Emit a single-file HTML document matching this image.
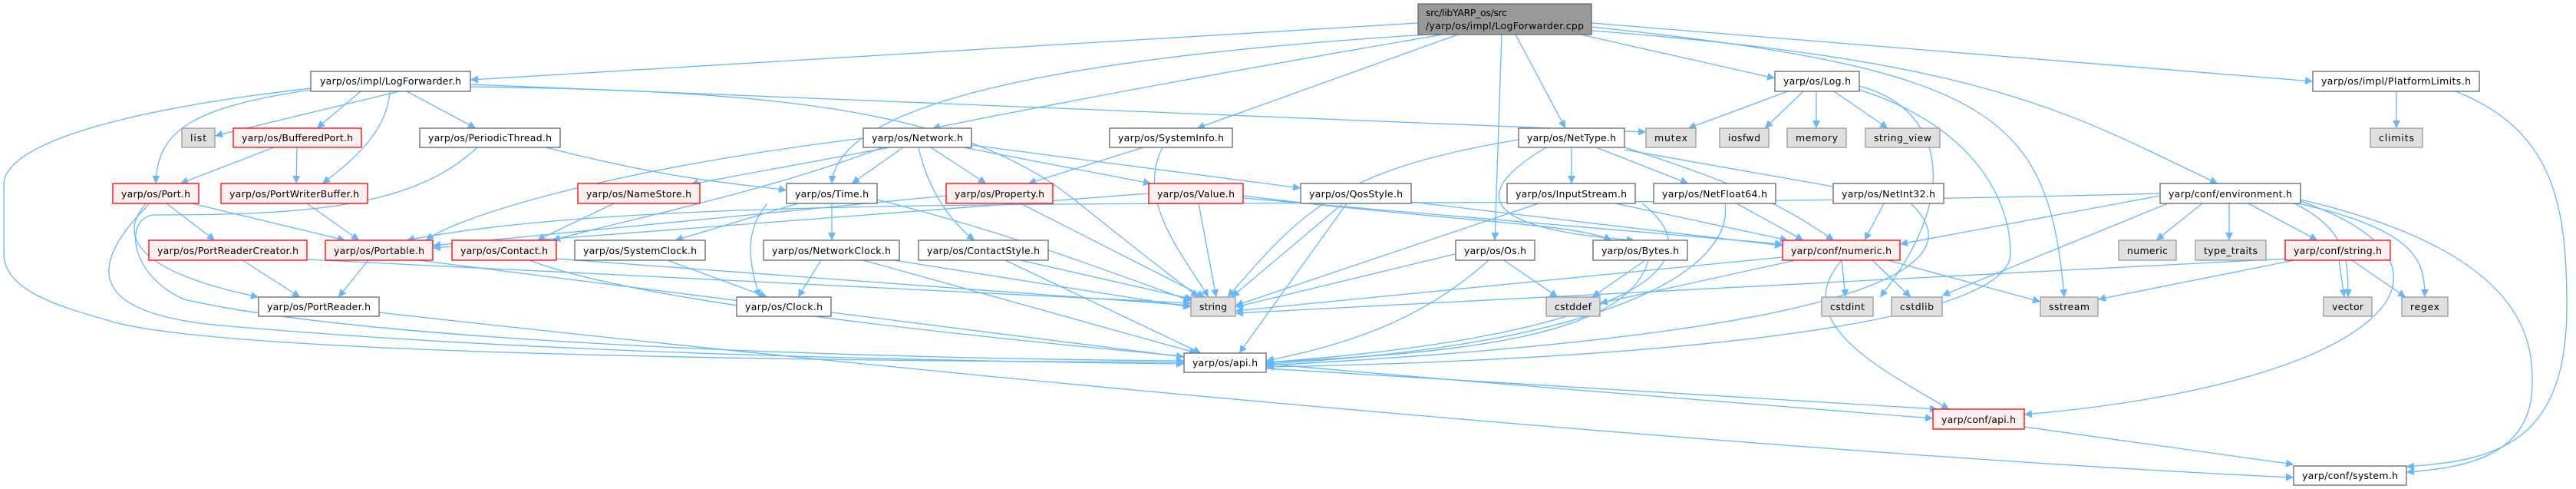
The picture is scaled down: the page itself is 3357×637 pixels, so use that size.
<!DOCTYPE html>
<html><head><meta charset="utf-8"><style>
html,body{margin:0;padding:0;background:#fff}
svg{display:block}
text{font-family:"DejaVu Sans","Liberation Sans",sans-serif;font-size:12.5px;fill:#000}
.e{fill:none;stroke:#63b8ff;stroke-width:1.3}
.w{fill:#fff;stroke:#666;stroke-width:1.3}
.g{fill:#e0e0e0;stroke:#999;stroke-width:1.3}
.r{fill:#fff0f0;stroke:#f00;stroke-width:1.3}
.t{fill:#999;stroke:#666;stroke-width:1.3}
</style></head><body>
<svg width="3357" height="637" viewBox="0 0 3357 637" xmlns="http://www.w3.org/2000/svg">
<defs><marker id="a" viewBox="0 0 10 10" refX="10" refY="5" markerWidth="10" markerHeight="10" markerUnits="userSpaceOnUse" orient="auto"><path d="M0,0 L10,5 L0,10 z" fill="#63b8ff"/></marker></defs>
<g marker-end="url(#a)">
<path class="e" d="M1848,30 L613,104"/>
<path class="e" d="M1880,45 Q1500,110 1215,167"/>
<path class="e" d="M1860,45 C1300,80 1090,150 1084,239"/>
<path class="e" d="M1900,45 L1560,167"/>
<path class="e" d="M1975,45 L2040,167"/>
<path class="e" d="M1957,45 L1948,313"/>
<path class="e" d="M2060,45 L2313,102"/>
<path class="e" d="M2074,30 L3014,106"/>
<path class="e" d="M2074,40 C2600,80 2700,150 2890,239"/>
<path class="e" d="M2074,35 C2600,90 2670,150 2690,387"/>
<path class="e" d="M520,119 L280,177"/>
<path class="e" d="M470,119 L413,167"/>
<path class="e" d="M530,119 L620,167"/>
<path class="e" d="M405,117 C250,140 205,170 203,239"/>
<path class="e" d="M508,119 C505,170 460,210 420,239"/>
<path class="e" d="M613,110 L2145,172"/>
<path class="e" d="M613,113 C1000,118 1250,140 1400,260 Q1500,340 1562,387"/>
<path class="e" d="M405,115 C100,150 5,200 5,240 L5,330 C5,380 80,400 150,420 C300,460 1000,470 1543,472"/>
<path class="e" d="M357,192 L235,239"/>
<path class="e" d="M387,192 L386,239"/>
<path class="e" d="M711,192 C900,240 980,240 1025,248"/>
<path class="e" d="M622,192 C540,270 400,280 200,280 C160,285 170,360 240,390 C500,450 1200,468 1543,470"/>
<path class="e" d="M217,265 L280,313"/>
<path class="e" d="M250,265 L450,313"/>
<path class="e" d="M190,265 C160,300 160,350 337,387"/>
<path class="e" d="M195,265 C120,340 100,410 300,425 C700,460 1200,470 1543,474"/>
<path class="e" d="M400,265 L468,313"/>
<path class="e" d="M800,265 L700,313"/>
<path class="e" d="M316,339 L391,387"/>
<path class="e" d="M400,338 L1552,395"/>
<path class="e" d="M480,339 L441,387"/>
<path class="e" d="M545,339 L1543,465"/>
<path class="e" d="M494,407 C1500,520 2500,600 2989,622"/>
<path class="e" d="M690,339 C900,420 1700,480 2519,545"/>
<path class="e" d="M725,337 L1552,398"/>
<path class="e" d="M870,339 L1000,387"/>
<path class="e" d="M1070,339 L1040,387"/>
<path class="e" d="M1125,339 L1560,460"/>
<path class="e" d="M1165,339 L1552,400"/>
<path class="e" d="M1330,339 L1555,390"/>
<path class="e" d="M1310,339 L1565,460"/>
<path class="e" d="M1000,265 C970,300 975,340 990,387"/>
<path class="e" d="M1084,265 L1084,313"/>
<path class="e" d="M1040,265 L880,313"/>
<path class="e" d="M1143,260 C1300,300 1380,330 1552,392"/>
<path class="e" d="M1125,180 C800,220 600,280 555,313"/>
<path class="e" d="M1160,192 L900,240"/>
<path class="e" d="M1150,192 C1000,250 800,290 720,313"/>
<path class="e" d="M1177,192 L1110,239"/>
<path class="e" d="M1213,192 L1285,239"/>
<path class="e" d="M1255,192 L1500,239"/>
<path class="e" d="M1266,189 L1695,245"/>
<path class="e" d="M1197,192 C1210,250 1240,290 1270,313"/>
<path class="e" d="M1490,192 L1340,239"/>
<path class="e" d="M1515,192 C1480,260 1540,330 1575,387"/>
<path class="e" d="M1233,255 L564,320"/>
<path class="e" d="M1330,265 L1570,387"/>
<path class="e" d="M1497,252 L564,323"/>
<path class="e" d="M1562,265 L1585,387"/>
<path class="e" d="M1620,258 L2323,318"/>
<path class="e" d="M1620,255 C1900,290 2050,290 2100,313"/>
<path class="e" d="M1750,265 L1605,387"/>
<path class="e" d="M1755,265 L1615,460"/>
<path class="e" d="M1839,263 L2323,320"/>
<path class="e" d="M1979,182 C1750,220 1700,270 1600,387"/>
<path class="e" d="M2048,192 L2048,239"/>
<path class="e" d="M2080,192 L2200,239"/>
<path class="e" d="M2117,195 L2400,245"/>
<path class="e" d="M2117,192 C2300,250 2340,280 2390,313"/>
<path class="e" d="M2015,192 C1900,260 1950,300 2130,313"/>
<path class="e" d="M2005,265 L1610,398"/>
<path class="e" d="M2105,265 L2330,313"/>
<path class="e" d="M2140,265 C2250,350 2100,440 1650,472"/>
<path class="e" d="M2263,265 L2350,313"/>
<path class="e" d="M2248,265 C2260,350 2100,450 1650,474"/>
<path class="e" d="M2455,265 L2430,313"/>
<path class="e" d="M2490,265 C2560,330 2520,430 1650,476"/>
<path class="e" d="M1900,330 L1610,400"/>
<path class="e" d="M1960,339 L2030,387"/>
<path class="e" d="M1940,339 C1850,420 1750,450 1650,470"/>
<path class="e" d="M2144,339 L2075,387"/>
<path class="e" d="M2148,339 C2120,440 1900,460 1650,472"/>
<path class="e" d="M2340,339 L2085,395"/>
<path class="e" d="M2323,335 L1610,405"/>
<path class="e" d="M2400,339 L2405,387"/>
<path class="e" d="M2440,339 L2490,387"/>
<path class="e" d="M2400,339 C2330,420 2450,480 2540,533"/>
<path class="e" d="M2460,339 L2659,393"/>
<path class="e" d="M2330,119 L2200,167"/>
<path class="e" d="M2350,119 L2300,167"/>
<path class="e" d="M2367,119 L2367,167"/>
<path class="e" d="M2390,119 L2460,167"/>
<path class="e" d="M2423,112 C2530,140 2560,250 2450,387"/>
<path class="e" d="M2423,117 C2560,160 2620,250 2620,330 C2620,430 2100,470 1650,478"/>
<path class="e" d="M2815,255 L2476,318"/>
<path class="e" d="M2870,265 L2810,313"/>
<path class="e" d="M2905,265 L2905,313"/>
<path class="e" d="M2930,265 L3020,313"/>
<path class="e" d="M2825,265 L2531,385"/>
<path class="e" d="M2815,252 C1800,280 900,240 530,313"/>
<path class="e" d="M2990,265 C3060,300 3060,340 3060,387"/>
<path class="e" d="M2995,265 C3150,300 3160,340 3160,387"/>
<path class="e" d="M2998,262 C3250,350 3100,500 2638,540"/>
<path class="e" d="M2998,260 C3300,330 3300,450 3300,500 C3300,600 3200,610 3136,615"/>
<path class="e" d="M3048,339 L3055,387"/>
<path class="e" d="M3065,339 L3135,387"/>
<path class="e" d="M2990,339 L2734,390"/>
<path class="e" d="M2980,337 L1610,408"/>
<path class="e" d="M1650,480 L2525,533"/>
<path class="e" d="M2638,556 L2989,605"/>
<path class="e" d="M3123,119 L3123,167"/>
<path class="e" d="M3200,119 C3330,170 3345,270 3345,400 C3345,580 3250,600 3136,608"/>
</g>
<g>
<rect class="t" x="1848" y="5" width="226" height="40"/>
<text x="1858" y="21" textLength="106">src/libYARP_os/src</text>
<text x="1858" y="38" textLength="206">/yarp/os/impl/LogForwarder.cpp</text>
<rect class="w" x="405" y="93" width="208" height="26"/><text x="417" y="110" textLength="184">yarp/os/impl/LogForwarder.h</text>
<rect class="w" x="2313" y="93" width="110" height="26"/><text x="2324" y="110" textLength="88">yarp/os/Log.h</text>
<rect class="w" x="3014" y="93" width="217" height="26"/><text x="3025" y="110" textLength="195">yarp/os/impl/PlatformLimits.h</text>
<rect class="g" x="237" y="167" width="43" height="25"/><text x="248" y="184" textLength="21">list</text>
<rect class="r" x="304" y="167" width="167" height="25"/><text x="315" y="184" textLength="145">yarp/os/BufferedPort.h</text>
<rect class="w" x="547" y="167" width="183" height="25"/><text x="558" y="184" textLength="161">yarp/os/PeriodicThread.h</text>
<rect class="w" x="1125" y="167" width="141" height="25"/><text x="1136" y="184" textLength="119">yarp/os/Network.h</text>
<rect class="w" x="1446" y="167" width="160" height="25"/><text x="1457" y="184" textLength="138">yarp/os/SystemInfo.h</text>
<rect class="w" x="1979" y="167" width="138" height="25"/><text x="1990" y="184" textLength="116">yarp/os/NetType.h</text>
<rect class="g" x="2145" y="167" width="65" height="25"/><text x="2156" y="184" textLength="43">mutex</text>
<rect class="g" x="2241" y="167" width="64" height="25"/><text x="2252" y="184" textLength="42">iosfwd</text>
<rect class="g" x="2329" y="167" width="77" height="25"/><text x="2340" y="184" textLength="55">memory</text>
<rect class="g" x="2431" y="167" width="97" height="25"/><text x="2442" y="184" textLength="75">string_view</text>
<rect class="g" x="3089" y="167" width="68" height="25"/><text x="3100" y="184" textLength="46">climits</text>
<rect class="r" x="147" y="239" width="112" height="26"/><text x="158" y="257" textLength="90">yarp/os/Port.h</text>
<rect class="r" x="288" y="239" width="191" height="26"/><text x="299" y="257" textLength="169">yarp/os/PortWriterBuffer.h</text>
<rect class="r" x="753" y="239" width="159" height="26"/><text x="764" y="257" textLength="137">yarp/os/NameStore.h</text>
<rect class="w" x="1025" y="239" width="118" height="26"/><text x="1036" y="257" textLength="96">yarp/os/Time.h</text>
<rect class="r" x="1233" y="239" width="139" height="26"/><text x="1244" y="257" textLength="117">yarp/os/Property.h</text>
<rect class="r" x="1497" y="239" width="123" height="26"/><text x="1508" y="257" textLength="101">yarp/os/Value.h</text>
<rect class="w" x="1695" y="239" width="144" height="26"/><text x="1706" y="257" textLength="122">yarp/os/QosStyle.h</text>
<rect class="w" x="1964" y="239" width="167" height="26"/><text x="1975" y="257" textLength="145">yarp/os/InputStream.h</text>
<rect class="w" x="2155" y="239" width="159" height="26"/><text x="2166" y="257" textLength="137">yarp/os/NetFloat64.h</text>
<rect class="w" x="2389" y="239" width="144" height="26"/><text x="2400" y="257" textLength="122">yarp/os/NetInt32.h</text>
<rect class="w" x="2815" y="239" width="183" height="26"/><text x="2826" y="257" textLength="161">yarp/conf/environment.h</text>
<rect class="r" x="194" y="313" width="206" height="26"/><text x="205" y="331" textLength="184">yarp/os/PortReaderCreator.h</text>
<rect class="r" x="424" y="313" width="140" height="26"/><text x="435" y="331" textLength="118">yarp/os/Portable.h</text>
<rect class="r" x="589" y="313" width="136" height="26"/><text x="600" y="331" textLength="114">yarp/os/Contact.h</text>
<rect class="w" x="749" y="313" width="170" height="26"/><text x="760" y="331" textLength="148">yarp/os/SystemClock.h</text>
<rect class="w" x="995" y="313" width="177" height="26"/><text x="1006" y="331" textLength="155">yarp/os/NetworkClock.h</text>
<rect class="w" x="1197" y="313" width="169" height="26"/><text x="1208" y="331" textLength="147">yarp/os/ContactStyle.h</text>
<rect class="w" x="1897" y="313" width="103" height="26"/><text x="1908" y="331" textLength="81">yarp/os/Os.h</text>
<rect class="w" x="2076" y="313" width="123" height="26"/><text x="2087" y="331" textLength="101">yarp/os/Bytes.h</text>
<rect class="r" x="2323" y="313" width="153" height="26"/><text x="2334" y="331" textLength="131">yarp/conf/numeric.h</text>
<rect class="g" x="2761" y="313" width="75" height="26"/><text x="2772" y="331" textLength="53">numeric</text>
<rect class="g" x="2861" y="313" width="92" height="26"/><text x="2872" y="331" textLength="70">type_traits</text>
<rect class="r" x="2978" y="313" width="137" height="26"/><text x="2989" y="331" textLength="115">yarp/conf/string.h</text>
<rect class="w" x="337" y="387" width="157" height="25"/><text x="348" y="404" textLength="135">yarp/os/PortReader.h</text>
<rect class="w" x="960" y="387" width="123" height="25"/><text x="971" y="404" textLength="101">yarp/os/Clock.h</text>
<rect class="g" x="1552" y="387" width="58" height="25"/><text x="1563" y="404" textLength="36">string</text>
<rect class="g" x="2015" y="387" width="70" height="25"/><text x="2026" y="404" textLength="48">cstddef</text>
<rect class="g" x="2374" y="387" width="67" height="25"/><text x="2385" y="404" textLength="45">cstdint</text>
<rect class="g" x="2465" y="387" width="66" height="25"/><text x="2476" y="404" textLength="44">cstdlib</text>
<rect class="g" x="2659" y="387" width="75" height="25"/><text x="2670" y="404" textLength="53">sstream</text>
<rect class="g" x="3028" y="387" width="63" height="25"/><text x="3039" y="404" textLength="41">vector</text>
<rect class="g" x="3130" y="387" width="60" height="25"/><text x="3141" y="404" textLength="38">regex</text>
<rect class="w" x="1543" y="460" width="107" height="25"/><text x="1554" y="477" textLength="85">yarp/os/api.h</text>
<rect class="r" x="2519" y="533" width="119" height="26"/><text x="2530" y="551" textLength="97">yarp/conf/api.h</text>
<rect class="w" x="2989" y="607" width="147" height="25"/><text x="3000" y="624" textLength="125">yarp/conf/system.h</text>
</g>
</svg>
</body></html>
